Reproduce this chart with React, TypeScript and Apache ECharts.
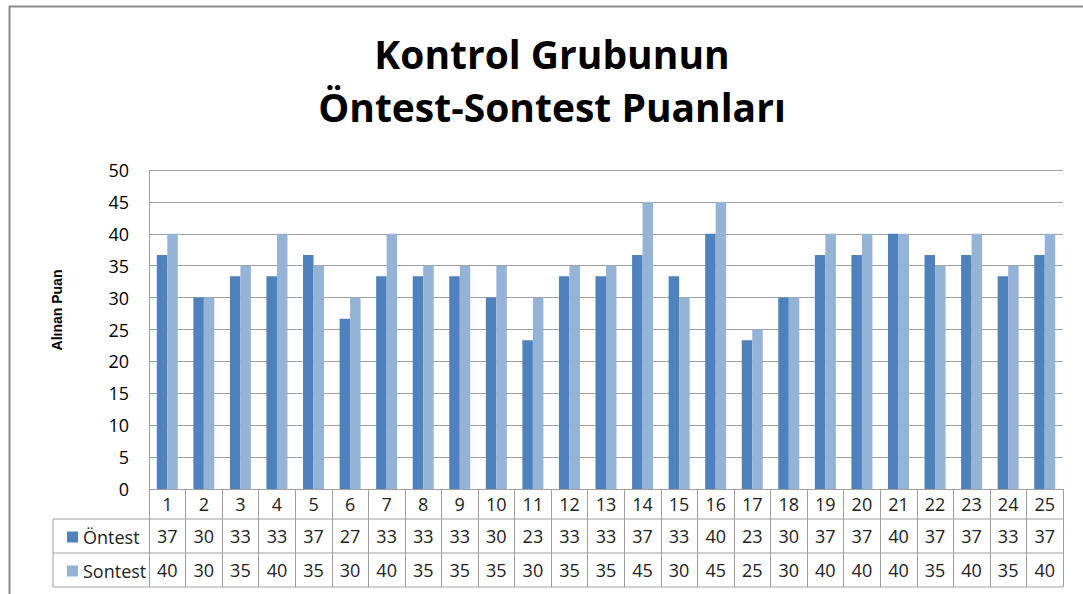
import React, { useEffect, useRef } from "react";
import * as echarts from "echarts";

const categories = ["1","2","3","4","5","6","7","8","9","10","11","12","13","14","15","16","17","18","19","20","21","22","23","24","25"];
const ontest = [36.67,30,33.33,33.33,36.67,26.67,33.33,33.33,33.33,30,23.33,33.33,33.33,36.67,33.33,40,23.33,30,36.67,36.67,40,36.67,36.67,33.33,36.67];
const sontest = [40,30,35,40,35,30,40,35,35,35,30,35,35,45,30,45,25,30,40,40,40,35,40,35,40];
const yTicks = { min: 0, max: 50, interval: 5 };
const titleText = "Kontrol Grubunun\nÖntest-Sontest Puanları";
const yName = "Alınan Puan";
const seriesNames = ["Öntest", "Sontest"];

const GRID = { left: 149, right: 20, top: 170, bottom: 105 };
const W = 1083, H = 594;
const LINE = "#a0a0a0";
const FONT = "'Open Sans', sans-serif";

export default function App() {
  const ref = useRef<HTMLDivElement>(null);
  useEffect(() => {
    document.body.style.margin = "0";
    const chart = echarts.init(ref.current!, null, { renderer: "svg" });
    const plotBottom = H - GRID.bottom;
    const plotRight = W - GRID.right;
    const row1 = plotBottom + 30;
    const row2 = row1 + 34;
    const row3 = row2 + 34;
    const tableLeft = 53;
    const lbl = (v: number) => String(Math.round(v));
    chart.setOption({
      animation: false,
      backgroundColor: "#fff",
      title: {
        text: titleText,
        left: 547,
        top: 22,
        textAlign: "center",
        textStyle: { fontSize: 39, fontWeight: "bold", lineHeight: 53, fontFamily: FONT, color: "#000" },
      },
      legend: {
        orient: "vertical",
        left: 62,
        top: row1 + 3,
        itemWidth: 11,
        itemHeight: 11,
        itemGap: 14,
        icon: "rect",
        textStyle: { fontSize: 18, lineHeight: 20, fontFamily: FONT, color: "#222" },
        data: seriesNames,
      },
      grid: { ...GRID, containLabel: false },
      xAxis: [
        {
          type: "category",
          data: categories,
          axisLine: { show: true, lineStyle: { color: LINE } },
          axisTick: { show: true, interval: 0, length: row3 - plotBottom, lineStyle: { color: LINE } },
          axisLabel: { interval: 0, fontSize: 18, lineHeight: 30, margin: 0, color: "#222", fontFamily: FONT },
        },
        {
          type: "category",
          position: "bottom",
          offset: row1 - plotBottom,
          data: ontest.map(lbl),
          axisLine: { show: false },
          axisTick: { show: false },
          axisLabel: { interval: 0, fontSize: 18, lineHeight: 34, margin: 0, color: "#222", fontFamily: FONT },
        },
        {
          type: "category",
          position: "bottom",
          offset: row2 - plotBottom,
          data: sontest.map(lbl),
          axisLine: { show: false },
          axisTick: { show: false },
          axisLabel: { interval: 0, fontSize: 18, lineHeight: 34, margin: 0, color: "#222", fontFamily: FONT },
        },
      ],
      yAxis: {
        type: "value",
        min: yTicks.min,
        max: yTicks.max,
        interval: yTicks.interval,
        axisLine: { show: true, lineStyle: { color: LINE } },
        axisTick: { show: false },
        splitLine: { lineStyle: { color: LINE } },
        axisLabel: { fontSize: 18, margin: 20, color: "#000", fontFamily: FONT },
      },
      series: [
        {
          name: seriesNames[0],
          type: "bar",
          data: ontest,
          barWidth: 10.5,
          barGap: "0%",
          itemStyle: { color: "#4F81BD" },
        },
        {
          name: seriesNames[1],
          type: "bar",
          data: sontest,
          barWidth: 10.5,
          barGap: "0%",
          itemStyle: { color: "#95B3D7" },
        },
      ],
      graphic: [
        {
          type: "rect",
          shape: { x: 9.5, y: 6.5, width: 2000, height: 2000 },
          style: { fill: "none", stroke: "#8c8c8c", lineWidth: 2 },
          silent: true,
        },
        ...[row1, row2, row3].map((y) => ({
          type: "line",
          shape: { x1: tableLeft, y1: y, x2: plotRight, y2: y },
          style: { stroke: LINE, lineWidth: 1 },
          silent: true,
        })),
        {
          type: "line",
          shape: { x1: tableLeft, y1: row1, x2: tableLeft, y2: row3 },
          style: { stroke: LINE, lineWidth: 1 },
          silent: true,
        },
        {
          type: "text",
          x: 57,
          y: 310,
          rotation: Math.PI / 2,
          style: {
            text: yName,
            font: "bold 14px 'Liberation Sans', Arial, sans-serif",
            fill: "#000",
            textAlign: "center",
            textVerticalAlign: "middle",
          },
        },
      ],
    });
    return () => chart.dispose();
  }, []);
  return <div ref={ref} style={{ width: W, height: H }} />;
}
